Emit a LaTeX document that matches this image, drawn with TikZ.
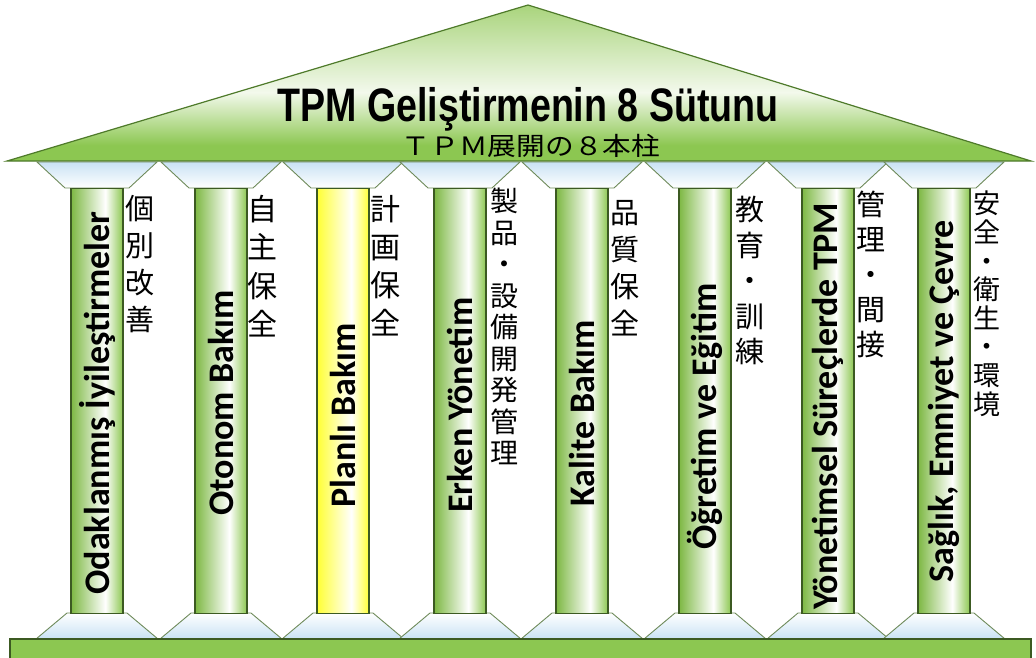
\documentclass[tikz,border=0pt]{standalone}
\usepackage{fontspec}
\usepackage{graphicx}
\newfontfamily\colfont{Carlito}
\newfontfamily\jpfont{Noto Sans CJK JP}
\newfontfamily\titlefont{Liberation Sans}
\definecolor{cg}{HTML}{8CC751}
\definecolor{cgd}{HTML}{7DB843}
\definecolor{cb}{HTML}{3C5A22}
\definecolor{rl}{HTML}{A9D47C}
\definecolor{rw}{HTML}{F3F9EC}
\definecolor{rline}{HTML}{4E7A2A}
\definecolor{capblue}{HTML}{C9E2F4}
\definecolor{capline}{HTML}{6E8A5A}
\definecolor{yl}{HTML}{FFFF33}
\pgfdeclarehorizontalshading{colgreen}{100bp}{color(0bp)=(cgd); color(25bp)=(cgd); color(58bp)=(white); color(75bp)=(cg); color(100bp)=(cg)}
\pgfdeclarehorizontalshading{colyellow}{100bp}{color(0bp)=(yl); color(25bp)=(yl); color(58bp)=(white); color(75bp)=(yl); color(100bp)=(yl)}
\pgfdeclareverticalshading{roofshade}{100bp}{color(0bp)=(cg); color(30bp)=(cg); color(47bp)=(rw); color(75bp)=(rl); color(100bp)=(rl)}
\pgfdeclareverticalshading{capshade}{100bp}{color(0bp)=(white); color(25bp)=(white); color(75bp)=(capblue); color(100bp)=(capblue)}
\pgfdeclareverticalshading{baseshade}{100bp}{color(0bp)=(capblue); color(25bp)=(capblue); color(75bp)=(white); color(100bp)=(white)}
\tikzset{
  colbox/.style={draw=cb, line width=1.4pt, shading=colgreen, minimum width=52pt, minimum height=425pt, inner sep=0pt, anchor=north},
  colboxy/.style={colbox, shading=colyellow},
  coltext/.style={rotate=90, inner sep=0pt, font=\colfont\bfseries\fontsize{36}{36}\selectfont},
  jptext/.style={anchor=north, inner sep=0pt, align=center, font=\jpfont\fontsize{29}{37}\selectfont},
  capital/.style={draw=capline, line width=0.9pt, shading=capshade},
  basecap/.style={draw=capline, line width=0.9pt, shading=baseshade},
}
\begin{document}
\begin{tikzpicture}[x=1pt,y=-1pt]
\useasboundingbox (0,0) rectangle (1036,657);
% roof
\path[draw=rline, line width=1.2pt, shading=roofshade] (528,5) -- (1031,161) -- (7,161) -- cycle;
% capitals and bases
\foreach \c in {97,221,343,460,582,705,828,944}{
  \path[capital] (\c-60,162) -- (\c+60,162) -- (\c+32,188) -- (\c-32,188) -- cycle;
  \path[basecap] (\c-30,613) -- (\c+30,613) -- (\c+61,639) -- (\c-61,639) -- cycle;
}
% plinth
\path[draw=cb, line width=1.2pt, fill=cg] (10,639) rectangle (1031,670);
% columns
\node[colbox]  (col1) at (97,188) {};
\node[colbox]  (col2) at (221,188) {};
\node[colboxy] (col3) at (343,188) {};
\node[colbox]  (col4) at (460,188) {};
\node[colbox]  (col5) at (582,188) {};
\node[colbox]  (col6) at (705,188) {};
\node[colbox]  (col7) at (828,188) {};
\node[colbox]  (col8) at (944,188) {};
% column texts
\node[coltext] (t1) at ([yshift=-2pt]col1.center) {Odaklanmış İyileştirmeler};
\node[coltext] (t2) at ([yshift=-2pt]col2.center) {Otonom Bakım};
\node[coltext] (t3) at ([yshift=-14pt]col3.center) {Planlı Bakım};
\node[coltext] (t4) at ([yshift=-4pt]col4.center) {Erken Yönetim};
\node[coltext] (t5) at ([yshift=-12pt]col5.center) {Kalite Bakım};
\node[coltext] (t6) at ([yshift=-15pt]col6.center) {Öğretim ve Eğitim};
\node[coltext] (t7) at ([yshift=-5pt]col7.center) {Yönetimsel Süreçlerde TPM};
\node[coltext] (t8) at ([yshift=0pt]col8.center) {Sağlık, Emniyet ve Çevre};
% Japanese labels
\node[jptext] (j1) at (140,195) {個\\別\\改\\善};
\node[jptext, font=\jpfont\fontsize{30}{38.5}\selectfont] (j2) at (262,195) {自\\主\\保\\全};
\node[jptext, font=\jpfont\fontsize{30}{38}\selectfont] (j3) at (385,195) {計\\画\\保\\全};
\node[jptext, font=\jpfont\fontsize{28}{31.5}\selectfont] (j4) at (504,188) {製\\品\\・\\設\\備\\開\\発\\管\\理};
\node[jptext] (j5) at (625,200) {品\\質\\保\\全};
\node[jptext, font=\jpfont\fontsize{29}{35.5}\selectfont] (j6) at (750,196) {教\\育\\・\\訓\\練};
\node[jptext, font=\jpfont\fontsize{29}{35}\selectfont] (j7) at (871,191) {管\\理\\・\\間\\接};
\node[jptext, font=\jpfont\fontsize{27}{28.6}\selectfont] (j8) at (987,191) {安\\全\\・\\衛\\生\\・\\環\\境};
% title
\node[anchor=base, inner sep=0pt, font=\titlefont\bfseries\fontsize{47}{47}\selectfont] (title) at (528,121) {\scalebox{0.8}[1]{TPM Geliştirmenin 8 Sütunu}};
\node[anchor=base, inner sep=0pt, font=\jpfont\fontsize{28.7}{28.7}\selectfont] (sub) at (531,155) {\scalebox{1}[0.88]{ＴＰＭ展開の８本柱}};
\end{tikzpicture}
\end{document}
